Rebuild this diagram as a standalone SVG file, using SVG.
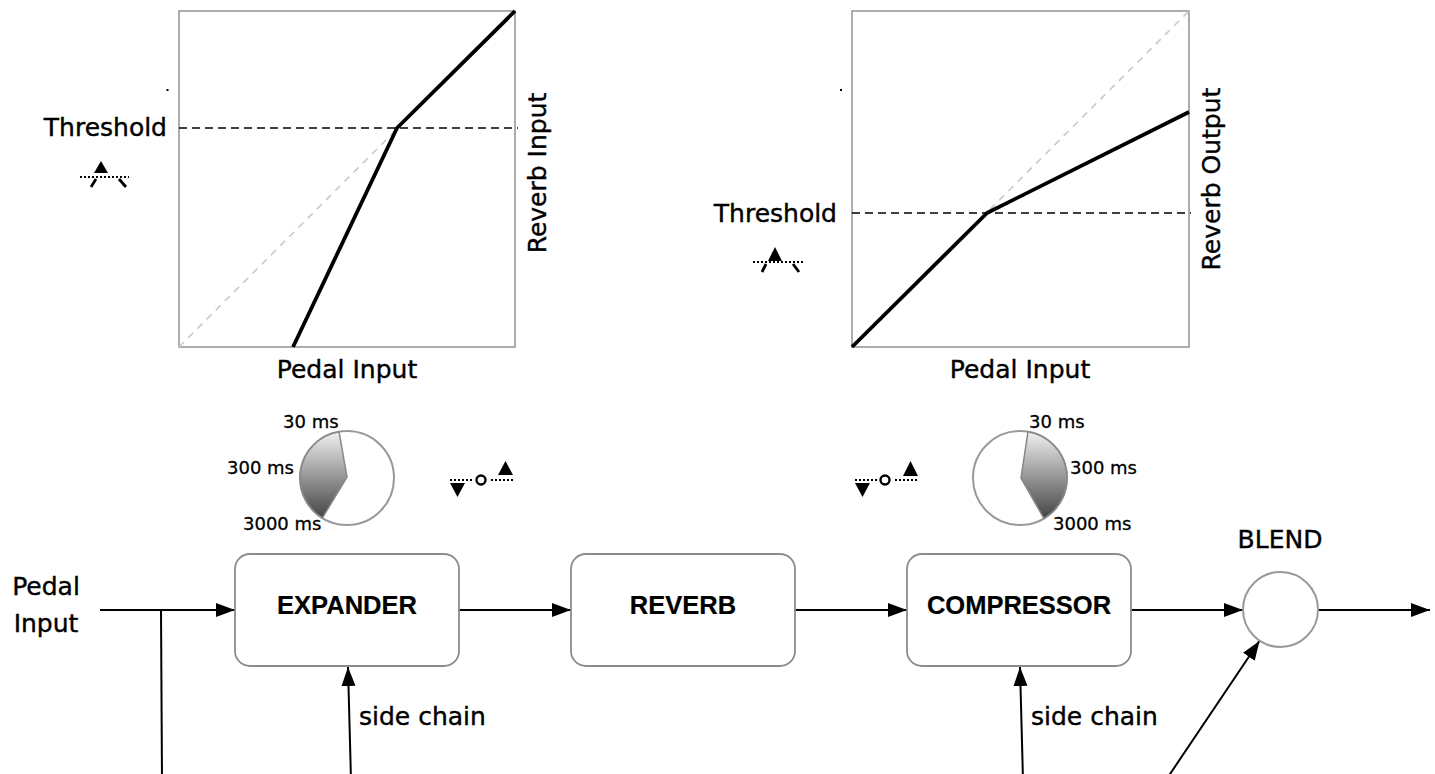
<svg xmlns="http://www.w3.org/2000/svg" width="1435" height="774" viewBox="0 0 1435 774">
<style>
text{font-family:"DejaVu Sans","Liberation Sans",sans-serif;fill:#000;stroke:#000;stroke-width:0.4}
.lbl{font-size:25px}
.sm{font-size:18px;stroke-width:0.3}
.bold{font-family:"Liberation Sans",Arial,sans-serif;font-weight:bold;font-size:25.5px;stroke-width:0.2}
.frame{fill:none;stroke:#999;stroke-width:1.6}
.diag{fill:none;stroke:#c8c8c8;stroke-width:1.6;stroke-dasharray:7 6}
.thr{fill:none;stroke:#000;stroke-width:1.7;stroke-dasharray:8 5}
.curve{fill:none;stroke:#000;stroke-width:3.8;stroke-linejoin:round}
.box{fill:#fff;stroke:#8c8c8c;stroke-width:1.8}
.conn{fill:none;stroke:#000;stroke-width:2}
.dots{fill:none;stroke:#000;stroke-width:2;stroke-dasharray:2 2}
.leg{fill:none;stroke:#000;stroke-width:2.8}
.knob{fill:#fff;stroke:#999;stroke-width:2}
.wedge{stroke:#888;stroke-width:1.5}
</style>
<defs>
<marker id="arr" markerUnits="userSpaceOnUse" markerWidth="20" markerHeight="15" refX="19" refY="7" orient="auto">
<path d="M0,0 L19,7 L0,14 z" fill="#000"/>
</marker>
<linearGradient id="gL" x1="0" y1="0" x2="0" y2="1">
<stop offset="0" stop-color="#f0f0f0"/>
<stop offset="1" stop-color="#444"/>
</linearGradient>
<linearGradient id="gR" x1="0" y1="0" x2="0" y2="1">
<stop offset="0" stop-color="#f0f0f0"/>
<stop offset="1" stop-color="#444"/>
</linearGradient>
</defs>
<rect width="1435" height="774" fill="#fff"/>

<g id="expander-chart">
<rect class="frame" x="179" y="11" width="336" height="336"/>
<line class="diag" x1="179" y1="347" x2="515" y2="11"/>
<line class="thr" x1="179" y1="128" x2="518" y2="128"/>
<polyline class="curve" points="293,347 397,128 515,11"/>
<text class="lbl" x="167" y="136" text-anchor="end">Threshold</text>
<rect x="166.5" y="89" width="2" height="2" fill="#000"/>
<text class="lbl" transform="translate(546,173) rotate(-90)" text-anchor="middle">Reverb Input</text>
<text class="lbl" x="347" y="378" text-anchor="middle">Pedal Input</text>
</g>

<g id="expander-threshold-icon">
<polygon points="101,161 94,173 108,173" fill="#000"/>
<line class="dots" x1="80" y1="177" x2="129" y2="177"/>
<line class="leg" x1="96" y1="179" x2="91" y2="187"/>
<line class="leg" x1="119" y1="179" x2="126" y2="187"/>
</g>

<g id="compressor-chart">
<rect class="frame" x="852" y="11" width="337" height="336"/>
<line class="diag" x1="852" y1="347" x2="1189" y2="11"/>
<line class="thr" x1="852" y1="213" x2="1191" y2="213"/>
<polyline class="curve" points="852,347 987,213 1189,112"/>
<text class="lbl" x="837" y="222" text-anchor="end">Threshold</text>
<rect x="840" y="89" width="2" height="2" fill="#000"/>
<text class="lbl" transform="translate(1220,179) rotate(-90)" text-anchor="middle">Reverb Output</text>
<text class="lbl" x="1020" y="378" text-anchor="middle">Pedal Input</text>
</g>

<g id="compressor-threshold-icon">
<polygon points="775,247 768,261 782,261" fill="#000"/>
<line class="dots" x1="753" y1="262" x2="803" y2="262"/>
<line class="leg" x1="766" y1="264" x2="762" y2="272"/>
<line class="leg" x1="793" y1="264" x2="799" y2="272"/>
</g>

<g id="expander-knob">
<circle class="knob" cx="347" cy="478" r="47"/>
<path class="wedge" fill="url(#gL)" d="M347,477 L339,431.7 A47,47 0 0 0 322.4,518 Z"/>
<text class="sm" x="283" y="428">30 ms</text>
<text class="sm" x="227" y="474">300 ms</text>
<text class="sm" x="243" y="530">3000 ms</text>
</g>

<g id="compressor-knob">
<circle class="knob" cx="1020" cy="478" r="47"/>
<path class="wedge" fill="url(#gR)" d="M1021,478 L1028,431.7 A47,47 0 0 1 1043.9,518.5 Z"/>
<text class="sm" x="1029" y="428">30 ms</text>
<text class="sm" x="1070" y="474">300 ms</text>
<text class="sm" x="1053" y="530">3000 ms</text>
</g>

<g id="expander-ratio-icon">
<line class="dots" x1="450" y1="480" x2="472" y2="480"/>
<circle cx="481" cy="480" r="4.5" fill="#fff" stroke="#000" stroke-width="2.4"/>
<line class="dots" x1="491" y1="480" x2="513" y2="480"/>
<polygon points="450,483 465,483 457.5,497" fill="#000"/>
<polygon points="505.5,461 498,475 513,475" fill="#000"/>
</g>

<g id="compressor-ratio-icon">
<line class="dots" x1="855" y1="480" x2="877" y2="480"/>
<circle cx="885" cy="480" r="4.5" fill="#fff" stroke="#000" stroke-width="2.4"/>
<line class="dots" x1="895" y1="480" x2="918" y2="480"/>
<polygon points="855,483 870,483 862.5,497" fill="#000"/>
<polygon points="910.5,461 903,476 918,476" fill="#000"/>
</g>

<g id="connectors">
<line class="conn" x1="100" y1="610" x2="235" y2="610" marker-end="url(#arr)"/>
<line class="conn" x1="161" y1="610" x2="162" y2="780"/>
<line class="conn" x1="459" y1="610" x2="571" y2="610" marker-end="url(#arr)"/>
<line class="conn" x1="795" y1="610" x2="907" y2="610" marker-end="url(#arr)"/>
<line class="conn" x1="1131" y1="610" x2="1243" y2="610" marker-end="url(#arr)"/>
<line class="conn" x1="1318" y1="610" x2="1430" y2="610" marker-end="url(#arr)"/>
<line class="conn" x1="351" y1="780" x2="348" y2="667" marker-end="url(#arr)"/>
<line class="conn" x1="1023" y1="780" x2="1020" y2="667" marker-end="url(#arr)"/>
<line class="conn" x1="1166" y1="780" x2="1259.5" y2="641" marker-end="url(#arr)"/>
<text class="lbl" x="359" y="725">side chain</text>
<text class="lbl" x="1031" y="725">side chain</text>
</g>

<g id="input-label">
<text class="lbl" x="46" y="595" text-anchor="middle">Pedal</text>
<text class="lbl" x="46" y="632" text-anchor="middle">Input</text>
</g>

<g id="expander">
<rect class="box" x="235" y="554" width="224" height="112" rx="15"/>
<text class="bold" x="347" y="614" text-anchor="middle">EXPANDER</text>
</g>

<g id="reverb">
<rect class="box" x="571" y="554" width="224" height="112" rx="15"/>
<text class="bold" x="683" y="614" text-anchor="middle">REVERB</text>
</g>

<g id="compressor">
<rect class="box" x="907" y="554" width="224" height="112" rx="15"/>
<text class="bold" x="1019" y="614" text-anchor="middle">COMPRESSOR</text>
</g>

<g id="blend">
<circle class="knob" cx="1280.5" cy="609.5" r="37.5"/>
<text class="lbl" x="1280" y="548" text-anchor="middle">BLEND</text>
</g>
</svg>
